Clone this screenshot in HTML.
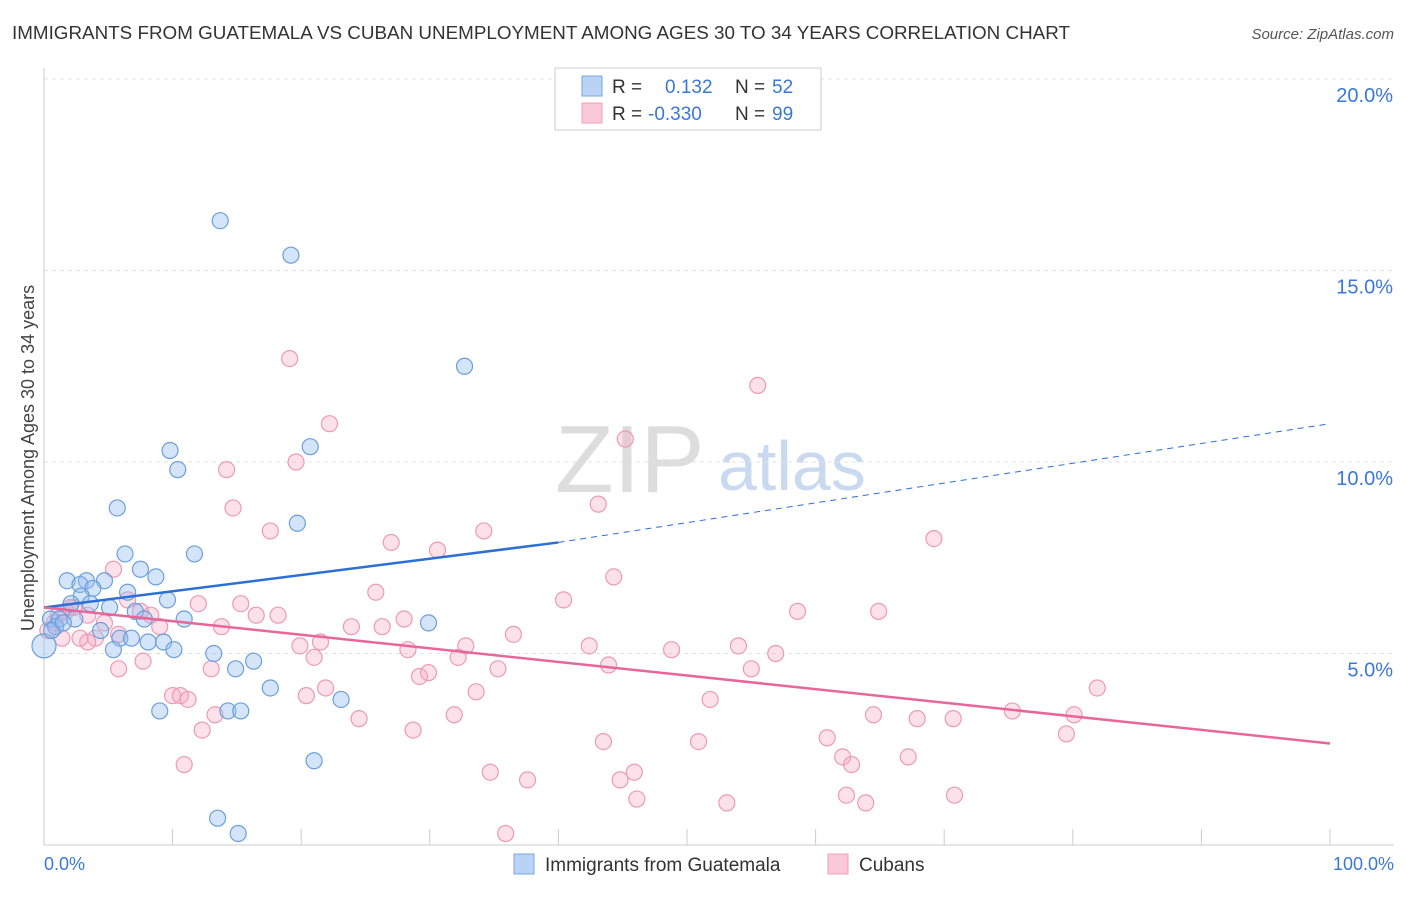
<!DOCTYPE html>
<html><head><meta charset="utf-8"><style>
body{margin:0;background:#fff;font-family:"Liberation Sans",sans-serif}
svg text{font-family:"Liberation Sans",sans-serif}
</style></head><body>
<svg id="chart" width="1406" height="892" xmlns="http://www.w3.org/2000/svg">
<text x="12" y="39" font-size="18" fill="#333" textLength="1058" lengthAdjust="spacingAndGlyphs">IMMIGRANTS FROM GUATEMALA VS CUBAN UNEMPLOYMENT AMONG AGES 30 TO 34 YEARS CORRELATION CHART</text>
<text x="1394" y="39" font-size="15" fill="#555" font-style="italic" text-anchor="end">Source: ZipAtlas.com</text>
<text x="0" y="0" transform="translate(34,458) rotate(-90)" font-size="18" fill="#444" text-anchor="middle">Unemployment Among Ages 30 to 34 years</text>
<text x="555" y="492" font-size="96" fill="#ddd" font-family="Liberation Serif">ZIP</text>
<text x="718" y="490" font-size="70" fill="#c9daf0">atlas</text>
<g id="grid"></g><g id="pts"></g><g id="lines"></g>
<g>
<rect x="555" y="68" width="266" height="62" fill="#fff" stroke="#ccc"/>
<rect x="582" y="76" width="20" height="20" fill="#b8d3f5" stroke="#7aa8e0"/>
<rect x="582" y="103" width="20" height="20" fill="#fac8d8" stroke="#eea0b8"/>
<text x="612" y="93" font-size="19" fill="#333">R = </text><text x="665" y="93" font-size="19" fill="#3a78d8">0.132</text>
<text x="735" y="93" font-size="19" fill="#333">N = </text><text x="772" y="93" font-size="19" fill="#3a78d8">52</text>
<text x="612" y="120" font-size="19" fill="#333">R = </text><text x="648" y="120" font-size="19" fill="#3a78d8">-0.330</text>
<text x="735" y="120" font-size="19" fill="#333">N = </text><text x="772" y="120" font-size="19" fill="#3a78d8">99</text>
</g>
<g>
<rect x="514" y="854" width="20" height="20" fill="#b8d3f5" stroke="#7aa8e0"/>
<text x="545" y="871" font-size="19" fill="#333">Immigrants from Guatemala</text>
<rect x="828" y="854" width="20" height="20" fill="#fac8d8" stroke="#eea0b8"/>
<text x="859" y="871" font-size="19" fill="#333">Cubans</text>
</g>
<text x="44" y="870" font-size="18" fill="#3a78d8">0.0%</text>
<text x="1394" y="870" font-size="18" fill="#3a78d8" text-anchor="end">100.0%</text>
</svg>
<script>
const yTicks=[5,10,15,20];
const yTickLabels=["5.0%","10.0%","15.0%","20.0%"];
const xTicks=[0,10,20,30,40,50,60,70,80,90,100];
const blueX=[13.7,19.2,32.7,9.8,20.7,10.4,5.7,19.7,6.3,11.7,7.5,1.8,3.3,8.7,4.7,2.8,3.8,6.5,2.9,2.1,3.6,5.1,9.6,7.1,7.8,10.9,0.5,1.2,2.4,29.9,0.9,4.4,5.9,6.8,8.1,9.3,5.4,10.1,13.2,16.3,14.9,0,17.6,23.1,9.0,14.3,15.3,21.0,13.5,15.1,0.6,1.5];
const blueY=[16.3,15.4,12.5,10.3,10.4,9.8,8.8,8.4,7.6,7.6,7.2,6.9,6.9,7.0,6.9,6.8,6.7,6.6,6.5,6.3,6.3,6.2,6.4,6.1,5.9,5.9,5.9,5.9,5.9,5.8,5.7,5.6,5.4,5.4,5.3,5.3,5.1,5.1,5.0,4.8,4.6,5.2,4.1,3.8,3.5,3.5,3.5,2.2,0.7,0.3,5.6,5.8];
const pinkX=[19.1,55.5,22.2,45.2,14.2,19.6,14.7,43.1,17.6,34.2,27.0,30.6,69.2,5.4,44.3,25.8,40.4,12.0,15.3,6.5,58.6,64.9,16.5,18.2,28.0,8.3,7.5,1.1,2.0,3.4,4.7,9.0,13.8,23.9,26.3,36.5,21.5,32.8,42.4,54.0,5.8,4.0,3.4,1.4,2.8,19.9,28.3,21.0,32.2,48.8,56.9,43.9,55.0,7.7,5.8,13.0,29.9,29.2,35.3,10.0,10.6,11.2,21.9,20.4,33.6,51.8,81.9,13.3,24.5,31.9,64.5,67.9,70.7,75.3,80.1,12.3,28.7,43.5,50.9,60.9,79.5,62.1,62.8,67.2,10.9,34.7,37.6,45.9,44.8,46.1,53.1,62.4,63.9,70.8,35.9,0.3,0.8,2.3,1.7];
const pinkY=[12.7,12.0,11.0,10.6,9.8,10.0,8.8,8.9,8.2,8.2,7.9,7.7,8.0,7.2,7.0,6.6,6.4,6.3,6.3,6.4,6.1,6.1,6.0,6.0,5.9,6.0,6.1,6.0,6.2,6.0,5.8,5.7,5.7,5.7,5.7,5.5,5.3,5.2,5.2,5.2,5.5,5.4,5.3,5.4,5.4,5.2,5.1,4.9,4.9,5.1,5.0,4.7,4.6,4.8,4.6,4.6,4.5,4.4,4.6,3.9,3.9,3.8,4.1,3.9,4.0,3.8,4.1,3.4,3.3,3.4,3.4,3.3,3.3,3.5,3.4,3.0,3.0,2.7,2.7,2.8,2.9,2.3,2.1,2.3,2.1,1.9,1.7,1.9,1.7,1.2,1.1,1.3,1.1,1.3,0.3,5.6,5.8,6.2,6.1];
const blueLine=[0,6.2,40,7.9,100,11.0];
const pinkLine=[0,6.2,100,2.65];
const X=v=>44+v*12.86, Y=v=>845-v*38.3;
const NS="http://www.w3.org/2000/svg";
function mk(tag,attrs,parent){const e=document.createElementNS(NS,tag);for(const k in attrs)e.setAttribute(k,attrs[k]);document.getElementById(parent).appendChild(e);return e;}
yTicks.forEach((t,i)=>{
 const l=mk('line',{x1:44,x2:1394,y1:Y(t),y2:Y(t),stroke:'#e3e3e3','stroke-dasharray':'4,4'},'grid');
 
 
 const tx=mk('text',{x:1393,y:Y(t)+23,'font-size':20,fill:'#3a78d8','text-anchor':'end'},'grid');
 tx.textContent=yTickLabels[i];
 
 
});
const ax=mk('line',{x1:44,x2:44,y1:68,y2:845,stroke:'#ccc'},'grid');


const bx=mk('line',{x1:44,x2:1394,y1:845,y2:845,stroke:'#ccc'},'grid');


xTicks.forEach(t=>{
 const l=mk('line',{x1:X(t),x2:X(t),y1:829,y2:845,stroke:'#ccc'},'grid');
 
 
});
pinkX.forEach((v,i)=>{
 const c=mk('circle',{cx:X(v),cy:Y(pinkY[i]),r:8,fill:'rgba(247,170,196,0.35)',stroke:'#ec9ab6','stroke-width':1.2},'pts');
 
 
});
blueX.forEach((v,i)=>{
 const c=mk('circle',{cx:X(v),cy:Y(blueY[i]),r:i==41?12:8,fill:'rgba(150,190,240,0.4)',stroke:'#6b9fdc','stroke-width':1.2},'pts');
 
 
});
const b1=mk('line',{x1:X(blueLine[0]),y1:Y(blueLine[1]),x2:X(blueLine[2]),y2:Y(blueLine[3]),stroke:'#2c6fd6','stroke-width':2.5},'lines');


const b2=mk('line',{x1:X(blueLine[2]),y1:Y(blueLine[3]),x2:X(blueLine[4]),y2:Y(blueLine[5]),stroke:'#2c6fd6','stroke-width':1,'stroke-dasharray':'6,5'},'lines');


const p1=mk('line',{x1:X(pinkLine[0]),y1:Y(pinkLine[1]),x2:X(pinkLine[2]),y2:Y(pinkLine[3]),stroke:'#e8679a','stroke-width':2.5},'lines');


</script>
</body></html>
